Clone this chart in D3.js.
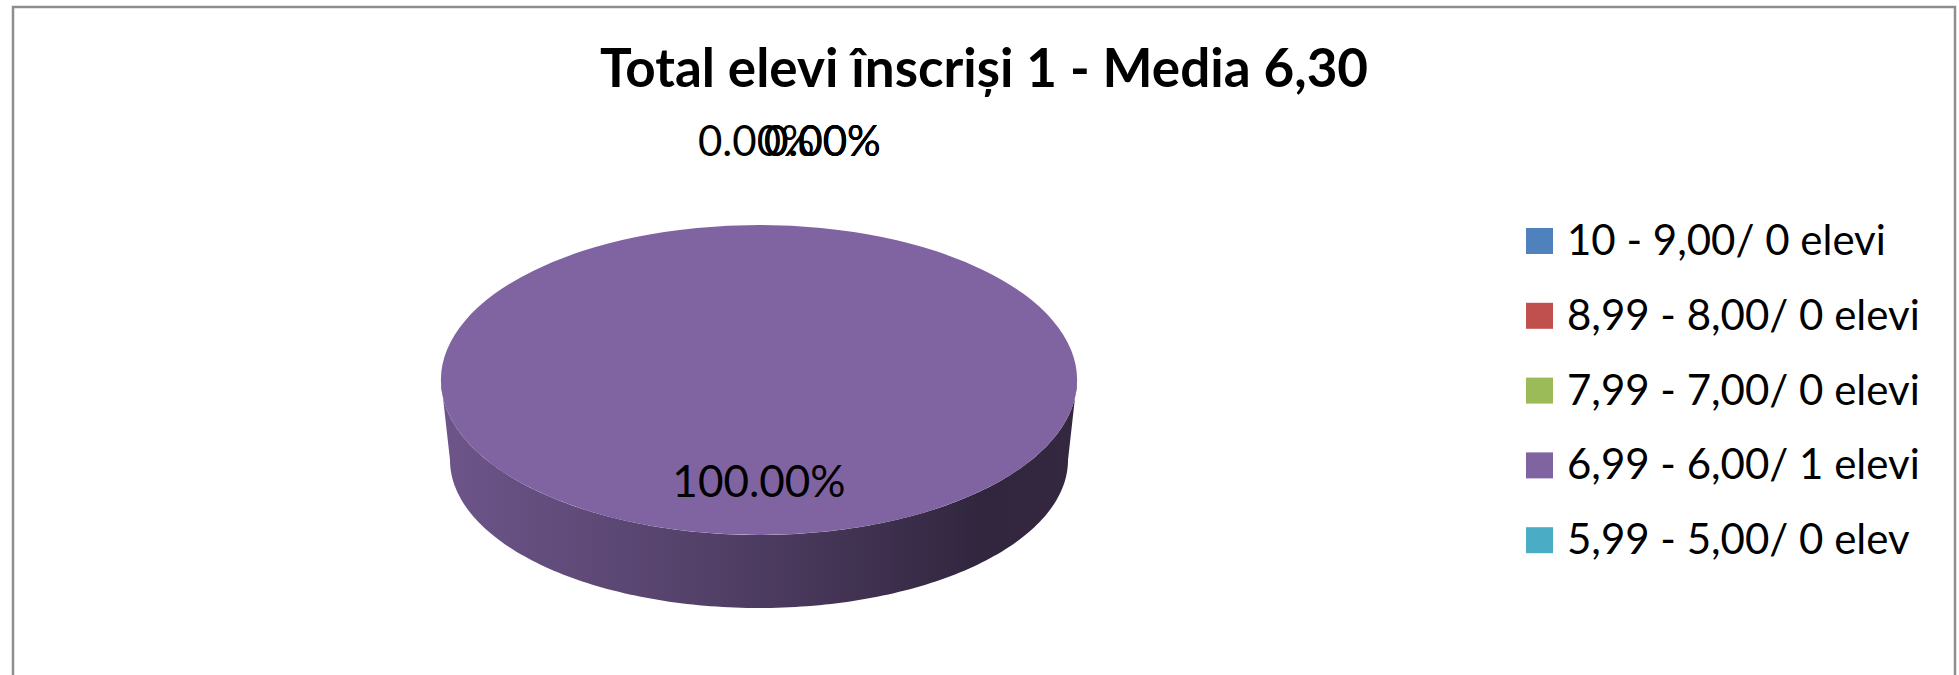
<!DOCTYPE html>
<html>
<head>
<meta charset="utf-8">
<script src="https://cdn.jsdelivr.net/npm/d3@7"></script>
<style>
  html, body { margin: 0; padding: 0; background: #ffffff; }
  svg { display: block; }
  text { font-family: Lato, "Open Sans", sans-serif; fill: #000; }
</style>
</head>
<body>
<svg id="chart" width="1959" height="675"></svg>
<script>
// Grade bands and number of pupils in each
const categories = [
  "10 - 9,00/ 0 elevi",
  "8,99 - 8,00/ 0 elevi",
  "7,99 - 7,00/ 0 elevi",
  "6,99 - 6,00/ 1 elevi",
  "5,99 - 5,00/ 0 elev"
];
const pupils = [0, 0, 0, 1, 0];
const colors = ["#4f81bd", "#c0504d", "#9bbb59", "#8064a2", "#4bacc6"];
const title = "Total elevi înscriși 1 - Media 6,30";

const W = 1959, H = 675;
const svg = d3.select("#chart");

// chart frame
svg.append("rect")
  .attr("x", 13).attr("y", 7)
  .attr("width", 1942).attr("height", H + 20)
  .attr("fill", "#fff")
  .attr("stroke", "#8e8e8e").attr("stroke-width", 2.5);

// title
svg.append("text")
  .attr("x", 984).attr("y", 87)
  .attr("text-anchor", "middle")
  .attr("font-weight", "bold")
  .attr("font-size", 53)
  .text(title);

// 3D pie geometry
const cx = 759, cy = 380;        // centre of the top face
const rx = 318, ry = 155;        // top face radii
const depth = 80;                // extrusion height
const rxB = 309, ryB = 148;      // bottom rim radii (slight perspective)

const total = d3.sum(pupils);
const pie = d3.pie().sort(null).value(d => d)(pupils);

const defs = svg.append("defs");
colors.forEach((c, i) => {
  const base = d3.color(c);
  const g = defs.append("linearGradient")
    .attr("id", "side" + i)
    .attr("x1", 0).attr("y1", 0).attr("x2", 1).attr("y2", 0)
    .attr("gradientUnits", "objectBoundingBox");
  g.append("stop").attr("offset", 0).attr("stop-color", base.darker(0.45));
  g.append("stop").attr("offset", 0.45).attr("stop-color", base.darker(1.3));
  g.append("stop").attr("offset", 0.85).attr("stop-color", base.darker(2.7));
  g.append("stop").attr("offset", 1).attr("stop-color", base.darker(2.6));
});

const topPt = a => [cx + rx * Math.sin(a), cy - ry * Math.cos(a)];
const botPt = a => [cx + rxB * Math.sin(a), cy + depth - ryB * Math.cos(a)];

// visible front side walls (angles between 90° and 270°)
const sideLayer = svg.append("g");
pie.forEach((p, i) => {
  const a0 = Math.max(p.startAngle, Math.PI / 2);
  const a1 = Math.min(p.endAngle, 3 * Math.PI / 2);
  if (a1 <= a0) return;
  const n = 160;
  const angles = d3.range(n + 1).map(k => a0 + (a1 - a0) * k / n);
  const pts = angles.map(topPt).concat(angles.slice().reverse().map(botPt));
  sideLayer.append("path")
    .attr("d", d3.line()(pts) + "Z")
    .attr("fill", `url(#side${i})`);
});

// top faces
const arc = d3.arc().innerRadius(0).outerRadius(rx);
svg.append("g")
  .attr("transform", `translate(${cx},${cy}) scale(1,${ry / rx})`)
  .selectAll("path")
  .data(pie.filter(p => p.endAngle > p.startAngle))
  .join("path")
  .attr("d", arc)
  .attr("fill", d => colors[d.index]);

// data labels (percentage of pupils)
const fmt = v => (v / total * 100).toFixed(2) + "%";
const labels = svg.append("g").attr("font-size", 43);
pie.forEach((p, i) => {
  const v = pupils[i];
  if (v === 0) {
    // empty slices sit at the 12 o'clock seam, labelled above the pie
    const atEnd = p.startAngle > Math.PI;
    labels.append("text")
      .attr("x", cx + (atEnd ? -61 : 5))
      .attr("y", 156)
      .attr("font-size", 42)
      .text(fmt(v));
  } else {
    labels.append("text")
      .attr("x", cx).attr("y", cy + ry * 0.755)
      .attr("text-anchor", "middle")
      .attr("font-size", 44)
      .text(fmt(v));
  }
});

// legend
const legend = svg.append("g").attr("transform", "translate(1526,228)");
const row = legend.selectAll("g").data(categories).join("g")
  .attr("transform", (d, i) => `translate(0,${i * 74.8})`);
row.append("rect").attr("width", 27).attr("height", 26)
  .attr("fill", (d, i) => colors[i]);
row.append("text").attr("x", 41).attr("y", 27)
  .attr("font-size", 42)
  .text(d => d);
</script>
</body>
</html>
